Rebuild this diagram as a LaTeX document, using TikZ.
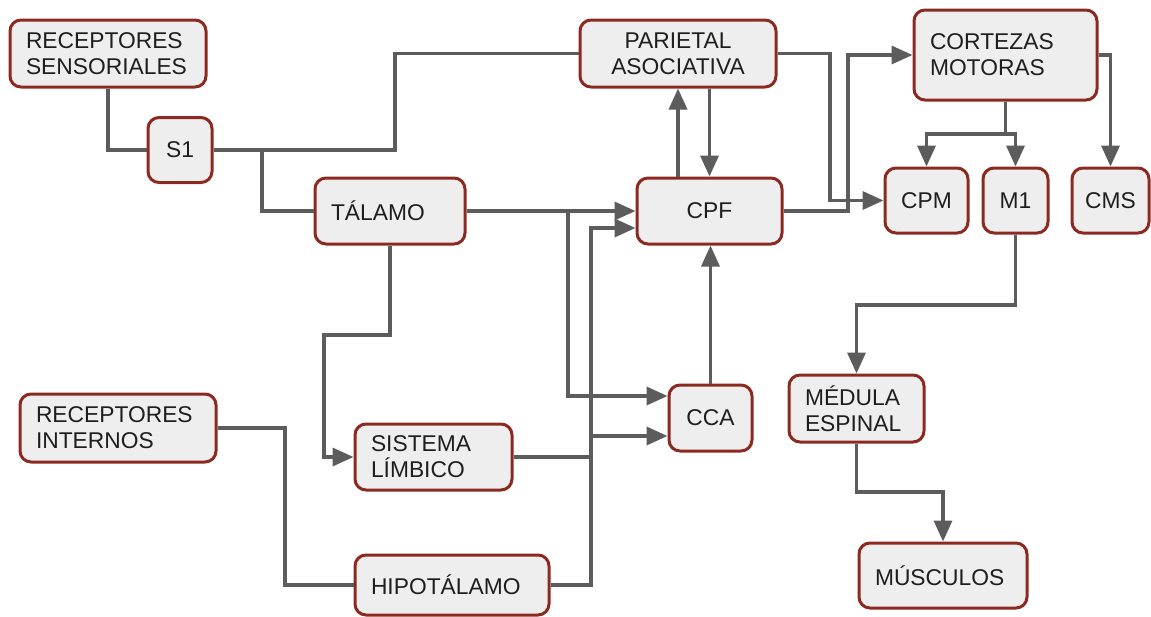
\documentclass[tikz,border=0pt]{standalone}
\usepackage{fontspec}
\setmainfont{Liberation Sans}
\usetikzlibrary{arrows.meta,calc}
\definecolor{boxedge}{HTML}{8C2A22}
\definecolor{boxfill}{HTML}{EEEEEE}
\definecolor{wire}{HTML}{5C5C5C}
\definecolor{ink}{HTML}{1E1E1E}

\begin{document}
\begin{tikzpicture}[x=1pt,y=-1pt,
  box/.style={draw=boxedge, fill=boxfill, line width=3pt, rounded corners=11pt,
    font=\fontsize{22.8}{26}\selectfont, text=ink},
  lbox/.style={box, align=left, inner xsep=16pt, inner ysep=0pt, text width=#1},
  cbox/.style={box, align=center, inner sep=0pt},
  conn/.style={draw=wire, line width=3.5pt},
  arr/.style={conn, -{Triangle[length=21pt 0, width=18pt 0]}},
]
\useasboundingbox (0,0) rectangle (1151,616);

% blocks
\node[lbox=164pt, minimum height=67pt] (rs) at (108,53.5) {RECEPTORES\\SENSORIALES};
\node[cbox, minimum width=64pt, minimum height=65pt] (s1) at (180,150) {S1};
\node[lbox=118pt, minimum height=66pt] (tal) at (390,211) {TÁLAMO};
\node[cbox, minimum width=196pt, minimum height=67pt] (par) at (678,53.5) {PARIETAL\\ASOCIATIVA};
\node[cbox, minimum width=145pt, minimum height=66pt] (cpf) at (709.5,211) {CPF};
\node[lbox=151pt, minimum height=90pt] (cm) at (1005.5,55) {CORTEZAS\\MOTORAS};
\node[cbox, minimum width=83pt, minimum height=65pt] (cpm) at (926.5,200.5) {CPM};
\node[cbox, minimum width=65pt, minimum height=65pt] (m1) at (1015.5,200.5) {M1};
\node[cbox, minimum width=77pt, minimum height=65pt] (cms) at (1110.5,200.5) {CMS};
\node[lbox=125pt, minimum height=66pt] (sl) at (433.5,457) {SISTEMA\\LÍMBICO};
\node[lbox=162pt, minimum height=60pt] (hip) at (452,585) {HIPOTÁLAMO};
\node[cbox, minimum width=83pt, minimum height=66pt] (cca) at (710.5,418) {CCA};
\node[lbox=103pt, minimum height=67pt] (med) at (856.5,408.5) {MÉDULA\\ESPINAL};
\node[lbox=136pt, minimum height=65pt] (mus) at (943,575.5) {MÚSCULOS};
\node[lbox=164pt, minimum height=68pt] (ri) at (118,428) {RECEPTORES\\INTERNOS};

% junction points
\coordinate (j1) at (262,150);
\coordinate (j2) at (568,211);
\coordinate (j3) at (591,436);
\coordinate (j4) at (591,457);
\coordinate (j5) at (1005.5,134);

% sensory input
\draw[conn] (rs.south) |- (s1.west);
\draw[conn] (s1.east) -- (395,150) |- (par.west);
\draw[conn] (j1) |- (tal.west);

% thalamus outputs
\draw[arr] (tal.east) -- (cpf.west);
\draw[arr] (j2) |- ($(cca.west)+(0,-22)$);
\draw[arr] (tal.south) |- (324,335) |- (sl.west);

% internal receptors, hypothalamus, limbic system
\draw[conn] (ri.east) -| (285,585) -- (hip.west);
\draw[arr] (hip.east) -| (591,228) -- ($(cpf.west)+(0,17)$);
\draw[arr] (j3) -- ($(cca.west)+(0,18)$);
\draw[conn] (sl.east) -- (j4);

% prefrontal loops
\draw[arr] (par.south |- cpf.north) -- (par.south);
\draw[arr] (cpf.north |- par.south) -- (cpf.north);
\draw[arr] (cca.north) -- (cpf.south -| cca.north);

% motor side
\draw[arr] (par.east) -| (830,200.5) -- (cpm.west);
\draw[arr] (cpf.east) -| (848,55) -- (cm.west);
\draw[conn] (cm.south) -- (j5);
\draw[arr] (j5) -| (cpm.north);
\draw[arr] (j5) -| (m1.north);
\draw[arr] (cm.east) -| (cms.north);
\draw[arr] (m1.south) |- (856.5,305) -- (med.north);
\draw[arr] (med.south) |- (943,492) -- (mus.north);
\end{tikzpicture}
\end{document}
